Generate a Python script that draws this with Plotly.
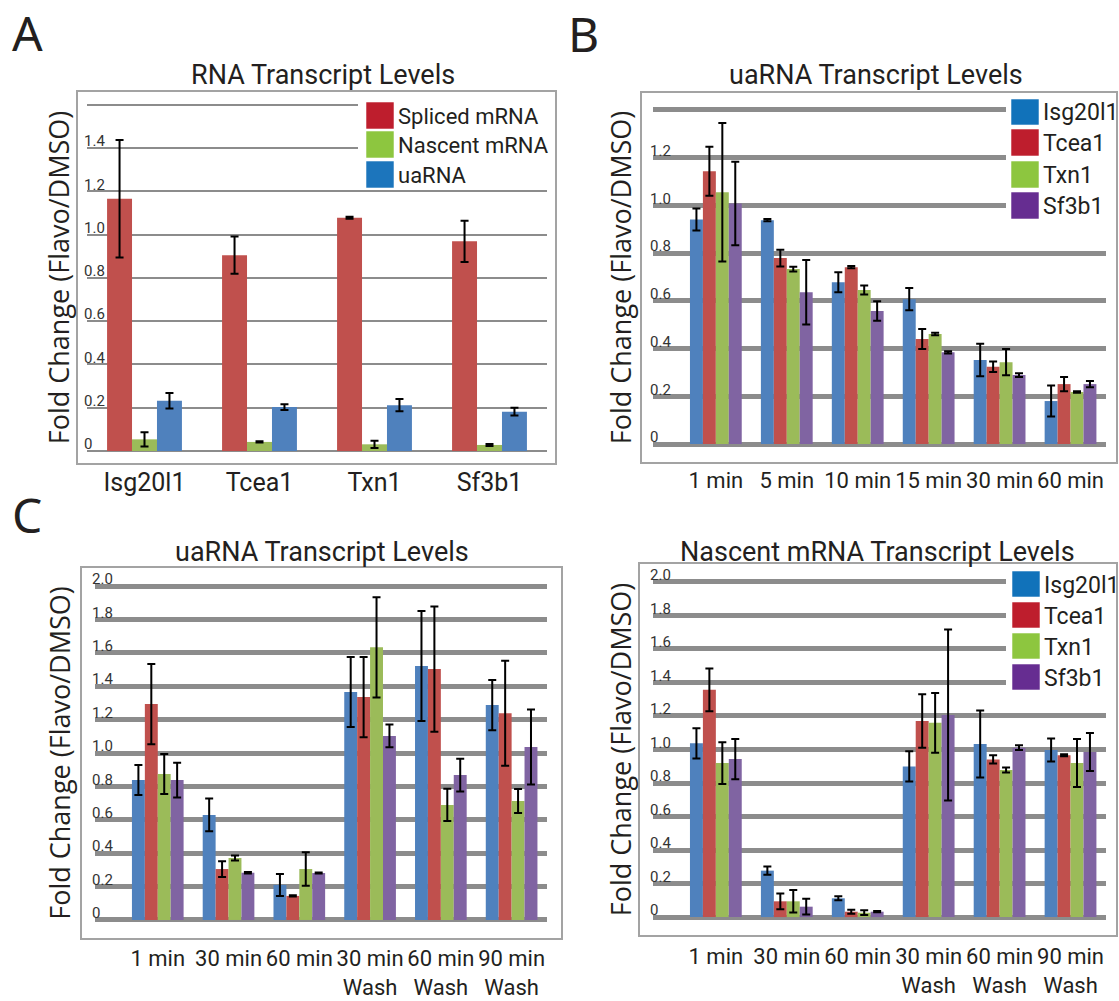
import plotly.graph_objects as go

W, H = 1119, 1001

# ---------------- data ----------------
genes_a = ["Isg20l1", "Tcea1", "Txn1", "Sf3b1"]
spliced = [1.166, 0.905, 1.078, 0.969]
spliced_err = [0.272, 0.086, 0.005, 0.095]
nascent = [0.054, 0.042, 0.031, 0.028]
nascent_err = [0.033, 0.003, 0.017, 0.005]
uarna = [0.232, 0.203, 0.212, 0.182]
uarna_err = [0.036, 0.013, 0.028, 0.018]

times_b = ["1 min", "5 min", "10 min", "15 min", "30 min", "60 min"]
b_isg = [0.941, 0.938, 0.678, 0.607, 0.352, 0.180]
b_isg_err = [0.046, 0.005, 0.042, 0.047, 0.068, 0.065]
b_tcea = [1.143, 0.779, 0.741, 0.440, 0.324, 0.251]
b_tcea_err = [0.103, 0.035, 0.005, 0.042, 0.022, 0.030]
b_txn = [1.055, 0.733, 0.645, 0.461, 0.343, 0.218]
b_txn_err = [0.290, 0.010, 0.019, 0.005, 0.055, 0.003]
b_sf3 = [1.008, 0.636, 0.557, 0.384, 0.289, 0.251]
b_sf3_err = [0.175, 0.135, 0.041, 0.005, 0.008, 0.013]

conds_c = ["1 min", "30 min", "60 min", "30 min<br>Wash", "60 min<br>Wash", "90 min<br>Wash"]
cu_isg = [0.838, 0.629, 0.210, 1.365, 1.521, 1.287]
cu_isg_err = [0.090, 0.098, 0.066, 0.210, 0.330, 0.150]
cu_tcea = [1.293, 0.305, 0.144, 1.335, 1.503, 1.238]
cu_tcea_err = [0.240, 0.047, 0.004, 0.240, 0.375, 0.315]
cu_txn = [0.874, 0.371, 0.305, 1.633, 0.689, 0.713]
cu_txn_err = [0.120, 0.015, 0.100, 0.300, 0.097, 0.072]
cu_sf3 = [0.838, 0.283, 0.281, 1.102, 0.868, 1.036]
cu_sf3_err = [0.104, 0.005, 0.003, 0.068, 0.098, 0.225]

cn_isg = [1.037, 0.277, 0.112, 0.899, 1.033, 0.997]
cn_isg_err = [0.090, 0.025, 0.012, 0.090, 0.200, 0.069]
cn_tcea = [1.356, 0.094, 0.032, 1.170, 0.941, 0.965]
cn_tcea_err = [0.127, 0.047, 0.012, 0.160, 0.024, 0.006]
cn_txn = [0.919, 0.094, 0.026, 1.159, 0.877, 0.919]
cn_txn_err = [0.125, 0.067, 0.014, 0.178, 0.015, 0.143]
cn_sf3 = [0.943, 0.062, 0.032, 1.206, 1.011, 0.985]
cn_sf3_err = [0.120, 0.047, 0.004, 0.510, 0.014, 0.114]

ticks_a = [0, 0.2, 0.4, 0.6, 0.8, 1.0, 1.2, 1.4, 1.6]
ticktext_a = ["0", "0.2", "0.4", "0.6", "0.8", "1.0", "1.2", "1.4", ""]
ticks_b = [0, 0.2, 0.4, 0.6, 0.8, 1.0, 1.2, 1.4]
ticktext_b = ["0", "0.2", "0.4", "0.6", "0.8", "1.0", "1.2", ""]
ticks_c = [0, 0.2, 0.4, 0.6, 0.8, 1.0, 1.2, 1.4, 1.6, 1.8, 2.0]
ticktext_c = ["0", "0.2", "0.4", "0.6", "0.8", "1.0", "1.2", "1.4", "1.6", "1.8", "2.0"]

gene_names = ["Isg20l1", "Tcea1", "Txn1", "Sf3b1"]
legend_a_names = ["Spliced mRNA", "Nascent mRNA", "uaRNA"]

# ---------------- styles ----------------
BLUE, RED, GREEN, PURPLE = "#4F81BD", "#C0504D", "#9BBB59", "#8064A2"
SW_BLUE, SW_RED, SW_GREEN, SW_PURPLE = "#1172BA", "#BE1E2D", "#8DC63F", "#662D91"
FONT = "Roboto, sans-serif"
TXT = "#231F20"


def px(x):
    return x / W


def py(y):
    return 1 - y / H


fig = go.Figure()


def err(arr):
    return dict(type="data", array=arr, color="black", thickness=2, width=4)


# Panel A (manual offsets since bar gap differs)
bw = 0.217
for i, (name, vals, e, col) in enumerate([
        ("Spliced mRNA", spliced, spliced_err, RED),
        ("Nascent mRNA", nascent, nascent_err, GREEN),
        ("uaRNA", uarna, uarna_err, BLUE)]):
    fig.add_trace(go.Bar(x=genes_a, y=vals, name=name, marker_color=col,
                         marker_line_width=0, error_y=err(e), width=bw,
                         offset=-1.5 * bw + i * bw, xaxis="x", yaxis="y",
                         showlegend=False))

for (xa, ya, x, series) in [
        ("x2", "y2", times_b, [(b_isg, b_isg_err), (b_tcea, b_tcea_err), (b_txn, b_txn_err), (b_sf3, b_sf3_err)]),
        ("x3", "y3", conds_c, [(cu_isg, cu_isg_err), (cu_tcea, cu_tcea_err), (cu_txn, cu_txn_err), (cu_sf3, cu_sf3_err)]),
        ("x4", "y4", conds_c, [(cn_isg, cn_isg_err), (cn_tcea, cn_tcea_err), (cn_txn, cn_txn_err), (cn_sf3, cn_sf3_err)])]:
    for name, (vals, e), col in zip(gene_names, series, [BLUE, RED, GREEN, PURPLE]):
        fig.add_trace(go.Bar(x=x, y=vals, name=name, marker_color=col,
                             marker_line_width=0, error_y=err(e),
                             xaxis=xa, yaxis=ya, showlegend=False))


def xaxis(dom, size, standoff):
    return dict(domain=[px(dom[0]), px(dom[1])], showgrid=False, showline=False,
                zeroline=False, ticks="", tickangle=0, ticklabelstandoff=standoff,
                tickfont=dict(family=FONT, size=size, color=TXT),
                fixedrange=True)


def yaxis(dom, rng, tv, tt, gw, title_std):
    return dict(domain=[py(dom[1]), py(dom[0])], range=rng, tickvals=tv, ticktext=tt,
                showgrid=True, gridcolor="#8C8C8C", gridwidth=gw, zeroline=False,
                showline=False, ticks="", ticklabelposition="inside",
                ticklabelstandoff=-6, ticklabelshift=-7,
                tickfont=dict(family=FONT, size=15, color="#333333"),
                title=dict(text="Fold Change (Flavo/DMSO)", standoff=title_std,
                           font=dict(family="Open Sans, sans-serif", size=27, color=TXT)),
                automargin=True, fixedrange=True)


layout = dict(
    width=W, height=H, margin=dict(l=0, r=0, t=0, b=0),
    paper_bgcolor="white", plot_bgcolor="white",
    barmode="group", bargap=0.27, bargroupgap=0,
    showlegend=False,
    xaxis=dict(xaxis((87, 547), 25, 1), anchor="y", range=[-0.5, 3.5]),
    yaxis=dict(yaxis((91, 464), [-0.06, 1.664], ticks_a, ticktext_a, 1.6, 6), anchor="x"),
    xaxis2=dict(xaxis((653, 1106), 22, 2), anchor="y2"),
    yaxis2=dict(yaxis((92, 463), [-0.0796, 1.475], ticks_b, ticktext_b, 4.5, 10), anchor="x2"),
    xaxis3=dict(xaxis((95, 547), 22, 4), anchor="y3"),
    yaxis3=dict(yaxis((567, 939), [-0.114, 2.114], ticks_c, ticktext_c, 4.5, 13), anchor="x3"),
    xaxis4=dict(xaxis((653, 1106), 22, 5), anchor="y4"),
    yaxis4=dict(yaxis((563, 936), [-0.113, 2.113], ticks_c, ticktext_c, 4.5, 10), anchor="x4"),
)
fig.update_layout(**layout)

shapes = []
annotations = []

# frames
for (x0, y0, x1, y1) in [(77, 91, 556, 464), (641, 92, 1117, 463), (81, 567, 562, 939), (639, 563, 1117, 936)]:
    shapes.append(dict(type="rect", xref="paper", yref="paper", x0=px(x0), x1=px(x1), y0=py(y1), y1=py(y0),
                       line=dict(color="#A3A3A3", width=2), fillcolor="rgba(0,0,0,0)", layer="above"))

# panel titles
for txt, x, y in [("RNA Transcript Levels", 323, 75), ("uaRNA Transcript Levels", 876, 75),
                  ("uaRNA Transcript Levels", 322, 552), ("Nascent mRNA Transcript Levels", 877, 552)]:
    annotations.append(dict(text=txt, x=px(x), y=py(y), xref="paper", yref="paper", showarrow=False,
                            xanchor="center", yanchor="middle",
                            font=dict(family=FONT, size=27, color=TXT)))

# panel letters
for txt, x, y in [("A", 10, 33), ("B", 566, 34), ("C", 10, 514)]:
    annotations.append(dict(text=txt, x=px(x), y=py(y), xref="paper", yref="paper", showarrow=False,
                            xanchor="left", yanchor="middle",
                            font=dict(family="Noto Sans, sans-serif", size=48, color=TXT)))


def legend(bg, sw_x, rows, names, cols, size):
    shapes.append(dict(type="rect", xref="paper", yref="paper", x0=px(bg[0]), x1=px(bg[1]),
                       y0=py(bg[3]), y1=py(bg[2]), line=dict(width=0), fillcolor="white", layer="above"))
    for (ya, yb), name, col in zip(rows, names, cols):
        shapes.append(dict(type="rect", xref="paper", yref="paper", x0=px(sw_x), x1=px(sw_x + 28),
                           y0=py(yb), y1=py(ya), line=dict(color="rgba(255,255,255,0.55)", width=1),
                           fillcolor=col, layer="above"))
        annotations.append(dict(text=name, x=px(sw_x + 30), y=py((ya + yb) / 2 + 1), xref="paper", yref="paper",
                                showarrow=False, xanchor="left", yanchor="middle",
                                font=dict(family=FONT, size=size, color=TXT)))


legend((358, 549, 95, 189), 366, [(102, 129), (131, 158), (161, 188)], legend_a_names,
       [SW_RED, SW_GREEN, "#1C75BC"], 22)
legend((1006, 1116, 94, 222), 1011, [(99, 125), (129, 156), (161, 188), (192, 219)], gene_names,
       [SW_BLUE, SW_RED, SW_GREEN, SW_PURPLE], 23)
legend((1006, 1116, 566, 700), 1012, [(571, 597), (602, 628), (633, 659), (664, 690)], gene_names,
       [SW_BLUE, SW_RED, SW_GREEN, SW_PURPLE], 23)

fig.update_layout(shapes=shapes, annotations=annotations)
fig.write_html("out.html")
